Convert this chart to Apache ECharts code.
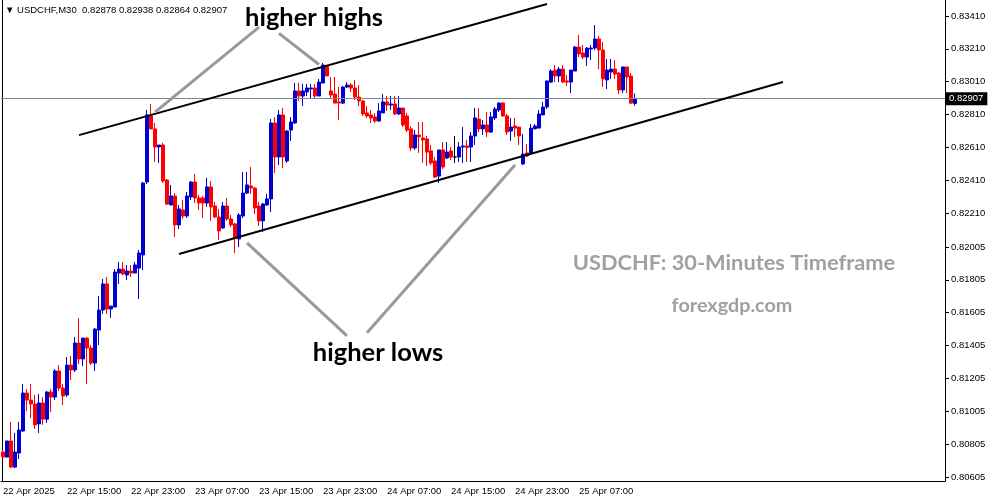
<!DOCTYPE html>
<html><head><meta charset="utf-8">
<script src="https://cdn.jsdelivr.net/npm/echarts@6/dist/echarts.min.js"></script>
<style>html,body{margin:0;padding:0;background:#fff}#c{width:991px;height:501px}</style>
</head><body><div id="c"></div>
<script>
// ---- data (USDCHF, M30) ----
const symbolTitle = 'USDCHF,M30';
const startDay = 22, startMonth = 'Apr', startYear = 2025, startMinutes = 7 * 60, barMinutes = 30;
const totalSlots = 236;
const openP = [0.80757,0.80726,0.80824,0.80665,0.80751,0.80885,0.81116,0.81073,0.81049,0.80928,
0.81055,0.80957,0.81122,0.81091,0.81250,0.81146,0.81104,0.81286,0.81256,0.81420,
0.81323,0.81450,0.81390,0.81298,0.81499,0.81621,0.81780,0.81627,0.81639,0.81846,
0.81870,0.81834,0.81858,0.81846,0.81876,0.81956,0.82400,0.82802,0.82723,0.82613,
0.82625,0.82412,0.82260,0.82315,0.82139,0.82230,0.82193,0.82309,0.82400,0.82303,
0.82303,0.82272,0.82370,0.82254,0.82187,0.82120,0.82254,0.82175,0.82145,0.82053,
0.82193,0.82333,0.82376,0.82363,0.82254,0.82163,0.82260,0.82297,0.82759,0.82552,
0.82808,0.82528,0.82716,0.82759,0.82954,0.82923,0.82948,0.82966,0.82972,0.82923,
0.83002,0.83106,0.82954,0.82935,0.82887,0.82880,0.82978,0.82990,0.82972,0.82917,
0.82893,0.82820,0.82808,0.82796,0.82771,0.82820,0.82887,0.82868,0.82875,0.82814,
0.82850,0.82802,0.82723,0.82607,0.82686,0.82668,0.82662,0.82589,0.82528,0.82436,
0.82595,0.82546,0.82589,0.82552,0.82552,0.82613,0.82619,0.82613,0.82680,0.82783,
0.82723,0.82747,0.82704,0.82790,0.82838,0.82880,0.82802,0.82710,0.82741,0.82734,
0.82510,0.82577,0.82577,0.82723,0.82728,0.82808,0.82856,0.83008,0.83081,0.83045,
0.83087,0.83015,0.83008,0.83075,0.83221,0.83185,0.83160,0.83209,0.83215,0.83270,
0.83203,0.83021,0.83069,0.83087,0.83063,0.82960,0.83100,0.83045,0.82878];
const highP = [0.80769,0.80824,0.80940,0.80873,0.80940,0.81171,0.81140,0.81171,0.81104,0.81110,
0.81091,0.81128,0.81140,0.81262,0.81286,0.81171,0.81335,0.81341,0.81456,0.81572,
0.81450,0.81456,0.81408,0.81511,0.81706,0.81810,0.81822,0.81645,0.81870,0.81913,
0.81913,0.81895,0.81895,0.81913,0.81986,0.82400,0.82838,0.82875,0.82759,0.82625,
0.82638,0.82418,0.82382,0.82333,0.82260,0.82290,0.82339,0.82406,0.82449,0.82321,
0.82315,0.82425,0.82406,0.82278,0.82236,0.82278,0.82303,0.82199,0.82151,0.82211,
0.82461,0.82461,0.82491,0.82370,0.82278,0.82272,0.82327,0.82783,0.82795,0.82838,
0.82850,0.82716,0.82795,0.83003,0.83003,0.82996,0.82996,0.82996,0.82996,0.83027,
0.83124,0.83112,0.83039,0.83039,0.82978,0.82984,0.83008,0.83002,0.83021,0.82990,
0.82899,0.82862,0.82838,0.82820,0.82880,0.82935,0.82923,0.82923,0.82923,0.82923,
0.82850,0.82820,0.82741,0.82716,0.82765,0.82765,0.82680,0.82625,0.82552,0.82595,
0.82643,0.82643,0.82613,0.82680,0.82643,0.82734,0.82656,0.82704,0.82850,0.82850,
0.82777,0.82826,0.82826,0.82856,0.82887,0.82887,0.82814,0.82790,0.82790,0.82734,
0.82692,0.82631,0.82753,0.82753,0.82838,0.82887,0.83015,0.83087,0.83112,0.83100,
0.83112,0.83051,0.83081,0.83227,0.83294,0.83234,0.83221,0.83234,0.83355,0.83288,
0.83252,0.83148,0.83148,0.83142,0.83069,0.83100,0.83100,0.83063,0.82938];
const lowP = [0.80720,0.80726,0.80659,0.80659,0.80714,0.80879,0.81006,0.80963,0.80897,0.80873,
0.80922,0.80934,0.81000,0.81073,0.81128,0.81043,0.81091,0.81195,0.81244,0.81292,
0.81280,0.81171,0.81286,0.81250,0.81408,0.81597,0.81597,0.81573,0.81639,0.81780,
0.81834,0.81804,0.81822,0.81846,0.81688,0.81864,0.82388,0.82723,0.82522,0.82516,
0.82394,0.82260,0.82260,0.82066,0.82114,0.82175,0.82181,0.82290,0.82272,0.82230,
0.82181,0.82248,0.82163,0.82181,0.82047,0.82114,0.82163,0.82126,0.81968,0.82004,
0.82181,0.82327,0.82327,0.82205,0.82132,0.82096,0.82254,0.82217,0.82455,0.82503,
0.82485,0.82516,0.82650,0.82753,0.82893,0.82862,0.82923,0.82911,0.82911,0.82923,
0.83002,0.83045,0.82911,0.82880,0.82777,0.82874,0.82972,0.82948,0.82899,0.82862,
0.82802,0.82790,0.82759,0.82759,0.82765,0.82820,0.82832,0.82838,0.82808,0.82808,
0.82734,0.82704,0.82589,0.82595,0.82577,0.82516,0.82497,0.82503,0.82424,0.82394,
0.82479,0.82540,0.82534,0.82516,0.82522,0.82516,0.82522,0.82522,0.82625,0.82704,
0.82686,0.82674,0.82698,0.82777,0.82826,0.82796,0.82686,0.82650,0.82674,0.82625,
0.82503,0.82552,0.82570,0.82723,0.82728,0.82808,0.82844,0.83002,0.83008,0.83008,
0.83002,0.82984,0.82941,0.83075,0.83160,0.83148,0.83106,0.83142,0.83203,0.83087,
0.82978,0.82966,0.83027,0.83027,0.82935,0.82941,0.82941,0.82874,0.82864];
const closeP = [0.80726,0.80824,0.80665,0.80757,0.80891,0.81116,0.81073,0.81049,0.80922,0.81055,
0.80957,0.81122,0.81091,0.81250,0.81146,0.81098,0.81286,0.81256,0.81420,0.81323,
0.81450,0.81390,0.81298,0.81505,0.81621,0.81780,0.81627,0.81645,0.81852,0.81870,
0.81840,0.81858,0.81846,0.81895,0.81968,0.82394,0.82808,0.82723,0.82613,0.82625,
0.82406,0.82266,0.82315,0.82139,0.82236,0.82193,0.82315,0.82400,0.82303,0.82272,
0.82272,0.82370,0.82248,0.82187,0.82102,0.82254,0.82175,0.82139,0.82059,0.82199,
0.82333,0.82382,0.82363,0.82242,0.82163,0.82266,0.82297,0.82759,0.82552,0.82808,
0.82552,0.82710,0.82765,0.82954,0.82923,0.82954,0.82972,0.82972,0.82923,0.83008,
0.83112,0.83045,0.82929,0.82880,0.82880,0.82978,0.82990,0.82972,0.82917,0.82893,
0.82814,0.82802,0.82790,0.82771,0.82832,0.82887,0.82868,0.82875,0.82814,0.82850,
0.82747,0.82716,0.82607,0.82686,0.82674,0.82656,0.82582,0.82516,0.82430,0.82595,
0.82491,0.82582,0.82552,0.82552,0.82613,0.82619,0.82610,0.82680,0.82790,0.82723,
0.82747,0.82704,0.82796,0.82844,0.82880,0.82802,0.82704,0.82734,0.82728,0.82680,
0.82570,0.82558,0.82728,0.82741,0.82814,0.82856,0.83015,0.83075,0.83045,0.83087,
0.83008,0.83008,0.83081,0.83221,0.83179,0.83160,0.83215,0.83215,0.83270,0.83203,
0.83027,0.83081,0.83087,0.83057,0.82960,0.83100,0.83039,0.82880,0.82907];
const priceTicks = ['0.83410','0.83210','0.83010','0.82810','0.82610','0.82410','0.82210','0.82005',
'0.81805','0.81605','0.81405','0.81205','0.81005','0.80805','0.80605'];
const timeLabelStep = 16;
const currentPrice = 0.82907;
// annotation lines: [[barIndex, price], [barIndex, price]]
const channelUpper = [[19, 0.82685], [136, 0.83483]];
const channelLower = [[44, 0.81962], [195, 0.83008]];
const pointerLines = [
  [[64, 0.83342], [38, 0.82825]],
  [[69, 0.83304], [79, 0.83115]],
  [[86, 0.81463], [61, 0.82029]],
  [[91, 0.81482], [128, 0.82503]]
];
const annotations = [
  {text: 'higher highs', x: 314, y: 18, size: 25.5, color: '#000'},
  {text: 'higher lows', x: 378, y: 353, size: 25.5, color: '#000'},
  {text: 'USDCHF: 30-Minutes Timeframe', x: 734, y: 263, size: 21.8, color: '#a0a0a0'},
  {text: 'forexgdp.com', x: 732, y: 306, size: 19.8, color: '#a0a0a0'}
];

// ---- build ----
const categories = [];
for (let i = 0; i < totalSlots; i++) {
  if (i < openP.length) {
    const m = startMinutes + i * barMinutes;
    const d = startDay + Math.floor(m / 1440);
    const mm = m % 1440;
    const hh = String(Math.floor(mm / 60)).padStart(2, '0');
    const mi = String(mm % 60).padStart(2, '0');
    categories.push(d + ' ' + startMonth + ' ' + hh + ':' + mi);
  } else categories.push('');
}
const candleData = openP.map((o, i) => {
  const v = [o, closeP[i], lowP[i], highP[i]];
  if (o === closeP[i]) return {value: v, itemStyle: {color: '#000', borderColor: '#000'}};
  return v;
});
const tickNums = priceTicks.map(Number);
const isLabelIdx = (idx) => idx % timeLabelStep === 0 && idx < openP.length;
const AX_FONT = 'Liberation Sans';
const lastBar = openP.length - 1;
const header = '\u25BC ' + symbolTitle + '  ' + [openP[lastBar], highP[lastBar], lowP[lastBar], closeP[lastBar]].map(v => v.toFixed(5)).join(' ');

const lineItem = (seg, style) => [{coord: seg[0], lineStyle: style}, {coord: seg[1]}];
const chanStyle = {color: '#000', width: 2, type: 'solid'};
const ptrStyle = {color: '#999999', width: 3, type: 'solid'};

const chart = echarts.init(document.getElementById('c'), null, {renderer: 'canvas'});
chart.setOption({
  animation: false,
  backgroundColor: '#fff',
  grid: {left: 1, right: 46, top: 0, bottom: 20, containLabel: false},
  xAxis: {
    type: 'category', data: categories, boundaryGap: true,
    axisLine: {lineStyle: {color: '#000', width: 1}},
    axisTick: {alignWithLabel: true, interval: (i) => isLabelIdx(i), length: 4, lineStyle: {color: '#000'}},
    axisLabel: {interval: (i) => isLabelIdx(i), align: 'left', margin: 5, fontSize: 9.5, fontFamily: AX_FONT, color: '#000',
      formatter: (v, i) => i === 0 ? (startDay + ' ' + startMonth + ' ' + startYear) : v},
    splitLine: {show: false}
  },
  yAxis: {
    type: 'value', position: 'right', min: 0.805805, max: 0.835074, scale: true,
    axisLine: {show: true, lineStyle: {color: '#000', width: 1}},
    axisTick: {show: true, customValues: tickNums, length: 4, lineStyle: {color: '#000'}},
    axisLabel: {customValues: tickNums, margin: 6, fontSize: 9.5, fontFamily: AX_FONT, color: '#000',
      formatter: (v) => { let best = 0; tickNums.forEach((t, k) => { if (Math.abs(t - v) < Math.abs(tickNums[best] - v)) best = k; }); return priceTicks[best]; }},
    splitLine: {show: false}
  },
  series: [{
    type: 'line', data: [], silent: true, symbol: 'none',
    markLine: {
      silent: true, symbol: ['none', 'none'], animation: false, precision: 5,
      data: [
        {yAxis: currentPrice, lineStyle: {color: '#778899', width: 1, type: 'solid'},
          label: {show: true, position: 'end', distance: 1, formatter: currentPrice.toFixed(5), color: '#fff', backgroundColor: '#000',
            padding: [2, 4, 1, 3], fontSize: 9.5, fontFamily: AX_FONT}}
      ]
    }
  }, {
    type: 'candlestick', data: candleData, barWidth: 3, clip: false,
    itemStyle: {color: '#0000D0', color0: '#FF0000', borderColor: '#0000D0', borderColor0: '#FF0000', borderWidth: 1},
    markLine: {
      silent: true, symbol: ['none', 'none'], animation: false, precision: 5,
      label: {show: false},
      data: [
        lineItem(channelUpper, chanStyle),
        lineItem(channelLower, chanStyle),
        ...pointerLines.map(s => lineItem(s, ptrStyle))
      ]
    }
  }],
  graphic: [
    {type: 'line', shape: {x1: 2.5, y1: 0, x2: 2.5, y2: 481}, style: {stroke: '#000', lineWidth: 1}, silent: true},
    {type: 'text', left: 5, top: 5, style: {text: header, font: '9.5px ' + AX_FONT, fill: '#000'}, silent: true},
    ...annotations.map(a => ({type: 'text', x: a.x, y: a.y, silent: true,
      style: {text: a.text, font: 'bold ' + a.size + 'px Lato', fill: a.color, textAlign: 'center', textVerticalAlign: 'middle'}}))
  ]
});
</script></body></html>
